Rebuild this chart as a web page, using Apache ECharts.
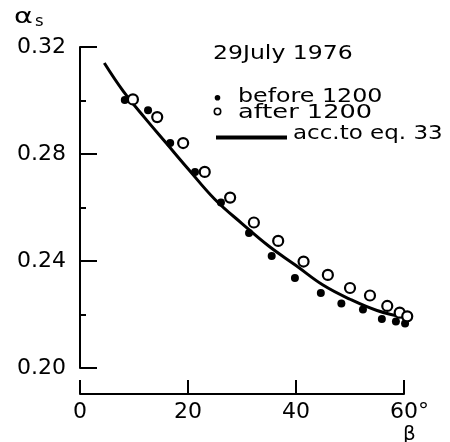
<!DOCTYPE html>
<html>
<head>
<meta charset="utf-8">
<script src="https://cdn.jsdelivr.net/npm/echarts@6/dist/echarts.min.js"></script>
<style>
  html, body { margin: 0; padding: 0; background: #fff; }
  #chart { width: 450px; height: 442px; }
</style>
</head>
<body>
<div id="chart"></div>
<script>
// Tick positions and labels
const betaTicks = [0, 20, 40, 60];
const betaTickLabels = ['0', '20', '40', '60'];
const alphaTicks = [0.20, 0.24, 0.28, 0.32];
const alphaTickLabels = ['0.20', '0.24', '0.28', '0.32'];

// Measurements before 1200 (filled dots)
const beforeBeta  = [8.3, 12.6, 16.7, 21.3, 26.1, 31.3, 35.5, 39.8, 44.6, 48.4, 52.4, 55.9, 58.5, 60.2];
const beforeAlpha = [0.3002, 0.2964, 0.2841, 0.2733, 0.2619, 0.2505, 0.2419, 0.2336, 0.2280, 0.2241, 0.2219, 0.2183, 0.2174, 0.2166];

// Measurements after 1200 (open circles)
const afterBeta  = [9.8, 14.3, 19.1, 23.1, 27.8, 32.2, 36.7, 41.4, 45.9, 50.0, 53.7, 56.9, 59.2, 60.6];
const afterAlpha = [0.3004, 0.2938, 0.2841, 0.2733, 0.2637, 0.2544, 0.2475, 0.2398, 0.2348, 0.2299, 0.2271, 0.2232, 0.2207, 0.2193];

// Curve according to eq. 33
const eqBeta  = [4.5, 8, 12, 16, 20, 25, 30, 35, 40, 45, 50, 55, 60.5];
const eqAlpha = [0.314, 0.3035, 0.2935, 0.2840, 0.2745, 0.2630, 0.2540, 0.2455, 0.2383, 0.2310, 0.2257, 0.2215, 0.2187];

// Caption, key and axis name texts
const dateText = '29July 1976';
const beforeName = 'before 1200';
const afterName = 'after 1200';
const curveName = 'acc.to eq. 33';
const yName = 'α';
const yNameSub = 's';
const xName = 'β';

const FONT = 'DejaVu Sans';
const pairs = (xs, ys) => xs.map((x, i) => [x, ys[i]]);

// Wide lettering used for the caption, key and axis names
const lettering = (text, x, y, sx, size) => ({
  type: 'text', x, y, scaleX: sx, silent: true,
  style: { text, fontFamily: FONT, fontSize: size || 19, fill: '#000', align: 'left', verticalAlign: 'middle' }
});

const chart = echarts.init(document.getElementById('chart'), null, { renderer: 'canvas' });

chart.setOption({
  animation: false,
  backgroundColor: '#fff',
  graphic: [
    lettering(yName, 14, 17, 1.3, 22),
    lettering(yNameSub, 35, 22.5, 1.1, 15),
    lettering(xName, 403, 435, 1.0, 20),
    lettering(dateText, 213, 54.5, 1.24),
    { type: 'circle', silent: true, shape: { cx: 217.5, cy: 97.8, r: 2.8 }, style: { fill: '#000' } },
    lettering(beforeName, 238, 97.5, 1.25),
    { type: 'circle', silent: true, shape: { cx: 217.5, cy: 111.5, r: 3.2 }, style: { fill: '#fff', stroke: '#000', lineWidth: 1.6 } },
    lettering(afterName, 238, 112.8, 1.35),
    { type: 'line', silent: true, shape: { x1: 216, y1: 137.5, x2: 287, y2: 137.5 }, style: { stroke: '#000', lineWidth: 4 } },
    lettering(curveName, 293, 134.5, 1.21)
  ],
  grid: { left: 80, right: 46, top: 47, bottom: 74, containLabel: false },
  xAxis: {
    type: 'value',
    min: 0, max: 60, interval: 20,
    offset: 26,
    axisLine: { show: true, lineStyle: { color: '#000', width: 2 } },
    axisTick: { show: true, inside: true, length: 14, lineStyle: { color: '#000', width: 2 } },
    splitLine: { show: false },
    axisLabel: {
      margin: 7,
      fontFamily: FONT, fontSize: 22, color: '#000',
      formatter: v => {
        const i = betaTicks.indexOf(v);
        const s = i >= 0 ? betaTickLabels[i] : '';
        return v === 60 ? '{pad|}' + s + '{deg|°}' : s;
      },
      rich: {
        pad: { width: 11 },
        deg: { fontFamily: FONT, fontSize: 22, color: '#000' }
      }
    }
  },
  yAxis: {
    type: 'value',
    min: 0.20, max: 0.32, interval: 0.04,
    axisLine: { show: true, lineStyle: { color: '#000', width: 2 } },
    axisTick: { show: true, inside: true, length: 17, lineStyle: { color: '#000', width: 2 } },
    minorTick: { show: true, splitNumber: 2, length: 6, lineStyle: { color: '#000', width: 2 } },
    splitLine: { show: false },
    minorSplitLine: { show: false },
    axisLabel: {
      margin: 14,
      fontFamily: FONT, fontSize: 22, color: '#000',
      formatter: v => {
        const i = alphaTicks.findIndex(t => Math.abs(t - v) < 1e-9);
        return i >= 0 ? alphaTickLabels[i] : '';
      }
    }
  },
  series: [
    {
      name: curveName,
      type: 'line',
      data: pairs(eqBeta, eqAlpha),
      smooth: 0.4,
      symbol: 'none',
      clip: false,
      lineStyle: { color: '#000', width: 3 },
      itemStyle: { color: '#000' },
      z: 2
    },
    {
      name: beforeName,
      type: 'scatter',
      data: pairs(beforeBeta, beforeAlpha),
      symbol: 'circle',
      symbolSize: 8,
      clip: false,
      itemStyle: { color: '#000', opacity: 1 },
      z: 3
    },
    {
      name: afterName,
      type: 'scatter',
      data: pairs(afterBeta, afterAlpha),
      symbol: 'circle',
      symbolSize: 10,
      clip: false,
      itemStyle: { color: '#fff', borderColor: '#000', borderWidth: 2.2, opacity: 1 },
      z: 4
    }
  ]
});
</script>
</body>
</html>
